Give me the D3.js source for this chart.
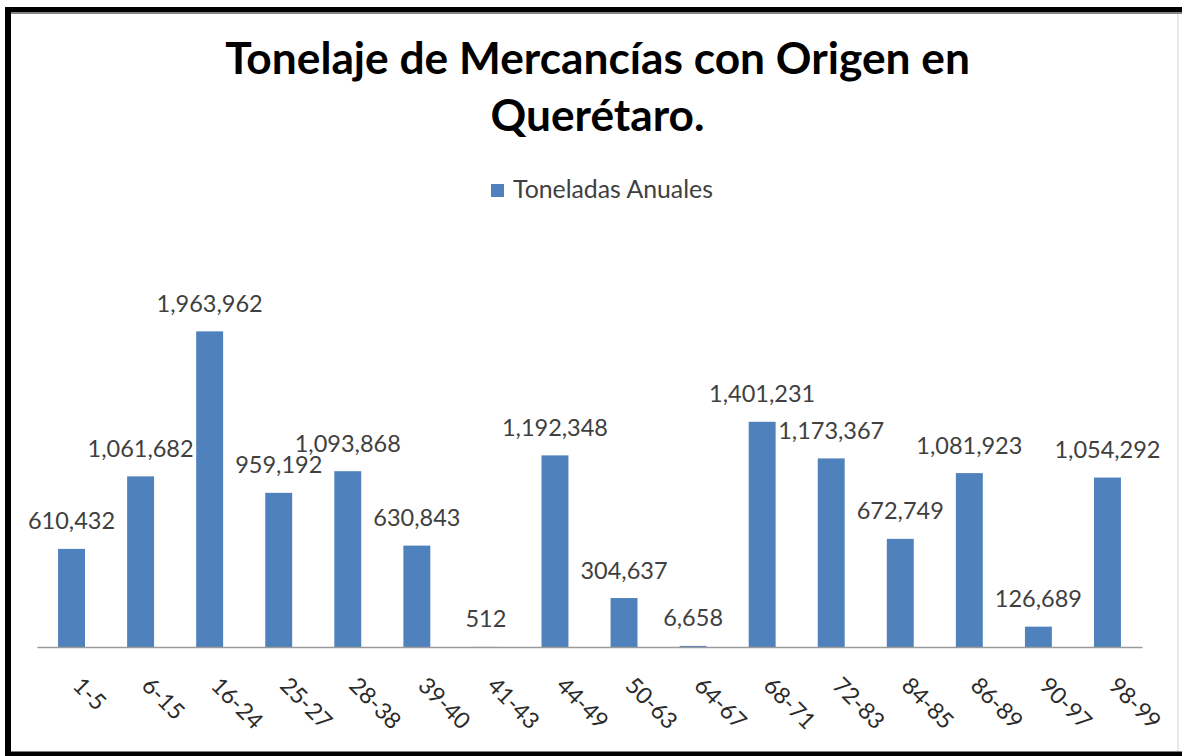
<!DOCTYPE html>
<html><head><meta charset="utf-8">
<script src="https://cdn.jsdelivr.net/npm/d3@7"></script>
<style>body{margin:0;background:#fff}svg{display:block}</style></head>
<body><svg id="c" width="1182" height="756"></svg>
<script>
const categories = ["1-5","6-15","16-24","25-27","28-38","39-40","41-43","44-49","50-63","64-67","68-71","72-83","84-85","86-89","90-97","98-99"];
const values = [610432,1061682,1963962,959192,1093868,630843,512,1192348,304637,6658,1401231,1173367,672749,1081923,126689,1054292];
const titleLines = ["Tonelaje de Mercancías con Origen en","Querétaro."];
const seriesName = "Toneladas Anuales";
const yDomain = [0, 2500000];

const svg = d3.select("#c");
const W = 1182, H = 756;
const barColor = "#4F81BD";
const font = "Lato, 'Open Sans', sans-serif";

svg.append("rect").attr("width",W).attr("height",H).attr("fill","#fff");

// frame
svg.append("rect").attr("x",1177.5).attr("y",9).attr("width",1).attr("height",745).attr("fill","#d4d4d4");
svg.append("rect").attr("x",5).attr("y",7).attr("width",W-5).attr("height",5.5).attr("fill","#000");
svg.append("rect").attr("x",5).attr("y",12.5).attr("width",W-5).attr("height",1.5).attr("fill","#888");
svg.append("rect").attr("x",5).attr("y",7).attr("width",6).attr("height",H-7).attr("fill","#000");
svg.append("rect").attr("x",5).attr("y",751.5).attr("width",W-5).attr("height",5).attr("fill","#000");

const x = d3.scaleBand().domain(categories).range([37,1142]).paddingInner(0.61).paddingOuter(0.305);
const y = d3.scaleLinear().domain(yDomain).range([647,245.2]);

// title
const tg = svg.append("g").attr("font-family",font).attr("font-weight","bold").attr("fill","#000").attr("text-anchor","middle");
const t1 = tg.append("text").attr("x",597.5).attr("y",74).attr("font-size",40).text(titleLines[0]);
const w1 = t1.node().getComputedTextLength();
const fs = 40*745/w1;
t1.attr("font-size",fs);
tg.append("text").attr("x",597.5).attr("y",131).attr("font-size",fs).text(titleLines[1]);

// legend
svg.append("rect").attr("x",491).attr("y",184).attr("width",13).attr("height",13).attr("fill",barColor);
const lt = svg.append("text").attr("x",513).attr("y",198).attr("font-family",font).attr("font-size",19).attr("fill","#404040").text(seriesName);
const lw = lt.node().getComputedTextLength();
lt.attr("font-size",19*200/lw);

// bars
svg.append("g").selectAll("rect").data(categories).join("rect")
  .attr("x",d=>x(d)).attr("width",x.bandwidth())
  .attr("y",(d,i)=>y(values[i])).attr("height",(d,i)=>y(0)-y(values[i]))
  .attr("fill",barColor);

// axis
const ax = svg.append("g").attr("transform",`translate(0,${y(0)})`)
  .call(d3.axisBottom(x).tickSize(0).tickSizeOuter(0).tickPadding(0));
ax.select(".domain").attr("stroke","#9a9a9a").attr("stroke-width",1.5);
ax.selectAll("text").attr("x",0).attr("y",0).attr("dy",null)
  .attr("transform","translate(0,40) rotate(45)")
  .attr("text-anchor","start").attr("font-family",font).attr("font-size",23).attr("fill","#2a2a2a");

// data labels
const fmt = d3.format(",");
svg.append("g").selectAll("text").data(categories).join("text")
  .attr("x",d=>x(d)+x.bandwidth()/2).attr("y",(d,i)=>y(values[i])-19.5)
  .attr("text-anchor","middle").attr("font-family",font).attr("font-size",23.5).attr("fill","#404040")
  .text((d,i)=>fmt(values[i]));
</script></body></html>
